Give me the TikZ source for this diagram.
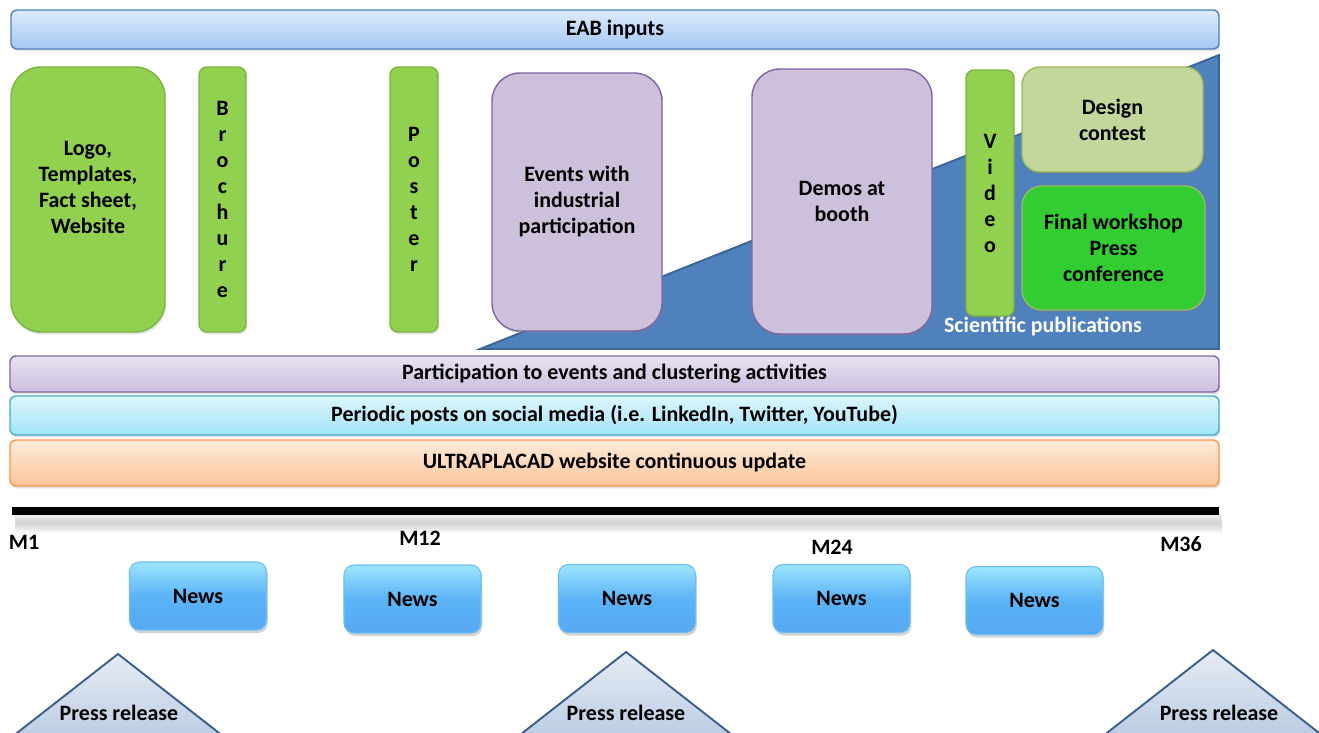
\documentclass[tikz,border=0pt]{standalone}
\usepackage{fontspec}
\setmainfont{Carlito}
\usetikzlibrary{shadows}
\definecolor{grn}{HTML}{92D050}
\definecolor{grnline}{HTML}{7DB344}
\definecolor{prp}{HTML}{CCC0DA}
\definecolor{prpline}{HTML}{8064A2}
\definecolor{olive}{HTML}{C3D69B}
\definecolor{oliveline}{HTML}{9BBB59}
\definecolor{brightgrn}{HTML}{33CC33}
\definecolor{wedgeblue}{HTML}{4F81BD}
\definecolor{wedgeline}{HTML}{3B6595}
\definecolor{eabtop}{HTML}{DEEBFC}
\definecolor{eabbot}{HTML}{A6C6F4}
\definecolor{eabline}{HTML}{4F81BD}
\definecolor{evtop}{HTML}{E9E3F1}
\definecolor{evbot}{HTML}{CBBEDE}
\definecolor{soctop}{HTML}{DDF5FC}
\definecolor{socbot}{HTML}{A2E4F8}
\definecolor{socline}{HTML}{4BACC6}
\definecolor{webtop}{HTML}{FDEBDC}
\definecolor{webbot}{HTML}{FBC597}
\definecolor{webline}{HTML}{F79646}
\definecolor{newstop}{HTML}{9CE6FE}
\definecolor{newsmid}{HTML}{5CB3F6}
\definecolor{newsbot}{HTML}{55A9F0}
\definecolor{newsline}{HTML}{6DBDF2}
\definecolor{prtop}{HTML}{E6ECF4}
\definecolor{prbot}{HTML}{AFC2DD}
\definecolor{prline}{HTML}{3C5F8C}
\tikzset{
  lbl/.style={font=\fontsize{12.5}{14.8}\selectfont\bfseries, align=center},
  sz/.style 2 args={minimum width=#1*0.02cm, minimum height=#2*0.02cm, inner sep=0pt},
  shdw/.style={drop shadow={opacity=0.22, shadow xshift=0.7pt, shadow yshift=-1.4pt}},
  greenbox/.style={lbl, shdw, draw=grnline, fill=grn, line width=0.8pt},
  purplebox/.style={lbl, shdw, draw=prpline, fill=prp, line width=0.8pt, rounded corners=0.56cm},
  bar/.style={lbl, shdw, line width=0.8pt, rounded corners=0.12cm},
  newsbtn/.style={lbl, sz={137}{68}, draw=newsline, line width=0.6pt, rounded corners=0.2cm,
    top color=newstop, bottom color=newsbot, middle color=newsmid,
    drop shadow={opacity=0.35, shadow xshift=0.8pt, shadow yshift=-1.8pt}},
  presstri/.style={draw=prline, line width=1.1pt, top color=prtop, bottom color=prbot}
}
\begin{document}
\begin{tikzpicture}[x=0.02cm,y=-0.02cm]
\useasboundingbox (0,0) rectangle (1319,733);
\clip (0,0) rectangle (1319,733);
% top bar
\node[bar, draw=eabline, top color=eabtop, bottom color=eabbot, sz={1208}{39}] (eab) at (615,29.5) {EAB inputs};
% blue wedge behind the boxes
\filldraw[fill=wedgeblue, draw=wedgeline, line width=1.1pt] (480,349) -- (1219,55) -- (1219,349) -- cycle;
% boxes
\node[greenbox, rounded corners=0.6cm, sz={154}{265}] (logo) at (88,199.5) {};
\node[lbl] (logotext) at (88,187) {Logo,\\Templates,\\Fact sheet,\\Website};
\node[greenbox, rounded corners=0.16cm, sz={47}{265}] (brochure) at (222.5,199.5) {B\\r\\o\\c\\h\\u\\r\\e};
\node[greenbox, rounded corners=0.16cm, sz={48}{265}] (poster) at (414,199.5) {P\\o\\s\\t\\e\\r};
\node[purplebox, sz={170}{258}] (events) at (577,202) {Events with\\industrial\\participation};
\node[purplebox, sz={180}{265}] (demos) at (842,201.5) {Demos at\\booth};
\node[greenbox, rounded corners=0.16cm, sz={48}{246}] (video) at (990,193) {V\\i\\d\\e\\o};
\node[lbl, shdw, draw=oliveline, fill=olive, line width=0.8pt, rounded corners=0.36cm, sz={181}{105}] (design) at (1112.5,119.5) {Design\\contest};
\node[lbl, shdw, draw=oliveline, fill=brightgrn, line width=0.8pt, rounded corners=0.4cm, sz={183}{124}] (final) at (1113.5,248) {Final workshop\\Press\\conference};
\node[lbl, text=white] (sci) at (1043,327) {Scientific publications};
% long bars
\node[bar, draw=prpline, top color=evtop, bottom color=evbot, sz={1209}{36}] (clustering) at (614.5,374) {Participation to events and clustering activities};
\node[bar, draw=socline, top color=soctop, bottom color=socbot, sz={1209}{39}] (social) at (614.5,415.5) {Periodic posts on social media (i.e. LinkedIn, Twitter, YouTube)};
\node[bar, draw=webline, top color=webtop, bottom color=webbot, sz={1209}{46}] (website) at (614.5,463) {ULTRAPLACAD website continuous update};
% timeline with soft shadow
\coordinate (t0) at (12,511);
\coordinate (t1) at (1219,511);
\foreach \w in {0.08,0.16,0.24,0.32,0.40}
\draw[transform canvas={xshift=0.06cm,yshift=-0.24cm}, line width=\w cm, black, opacity=0.035] (t0) -- (t1);
\draw[line width=0.16cm, black] (t0) -- (t1);
\foreach \m/\x/\y in {M1/24/542, M12/420/538, M24/832/547, M36/1181/544} % month marks
\node[lbl] (\m) at (\x,\y) {\m};
% news
\foreach \x/\y [count=\i] in {198/596, 412.5/599, 627/598.5, 841.5/598.5, 1034.5/600.5}
\node[newsbtn] (news\i) at (\x,\y) {News};
% press releases
\foreach \x/\y/\tx [count=\i] in {118/654/119, 626/652/626, 1213/650/1219} {
\path[presstri] (\x,\y) -- ++(-142,111) -- ++(284,0) -- cycle;
\node[lbl] (press\i) at (\tx,713) {Press release};
}
\end{tikzpicture}
\end{document}
